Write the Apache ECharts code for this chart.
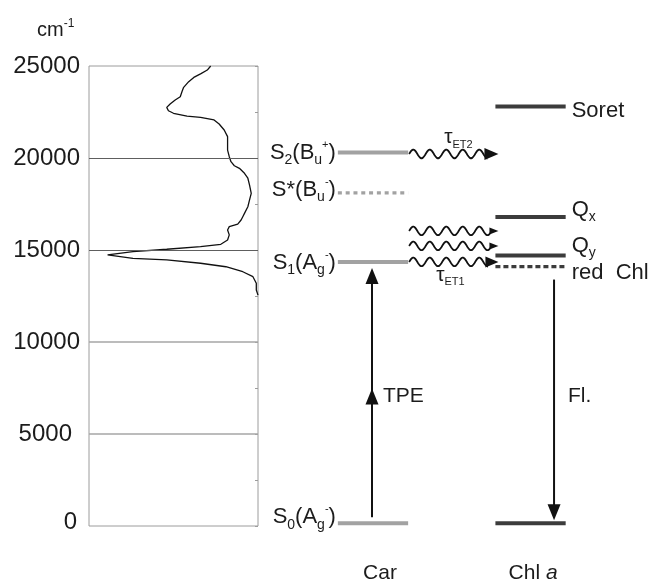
<!DOCTYPE html>
<html>
<head>
<meta charset="utf-8">
<script src="https://cdn.jsdelivr.net/npm/echarts@6/dist/echarts.min.js"></script>
<style>
  html, body { margin: 0; padding: 0; background: #ffffff; }
  #chart { width: 655px; height: 584px; }
</style>
</head>
<body>
<div id="chart"></div>
<script>
// ---- Energy axis (cm^-1) ----
const energyTicks = [0, 5000, 10000, 15000, 20000, 25000];
const tickLabels = ['0', '5000', '10000', '15000', '20000', '25000'];
const gridLevels = [5000, 10000, 15000, 20000];

// ---- Carotenoid absorption spectrum (energy in cm^-1, relative absorbance) ----
const spectrumEnergy = [25000, 24780, 24570, 24380, 24150, 23840, 23600, 23330, 23150, 22930,
  22750, 22570, 22430, 22280, 22210, 22070, 21850, 21520, 21160, 20800,
  20430, 20070, 19800, 19580, 19440, 19170, 18900, 18530, 18080, 17720,
  17350, 16990, 16810, 16630, 16410, 16270, 16090, 15820, 15540, 15310,
  15180, 15040, 14910, 14730, 14640, 14550, 14460, 14280, 14090, 13820,
  13550, 13190, 12830, 12550];
const spectrumAbs = [0.28, 0.30, 0.34, 0.38, 0.41, 0.44, 0.45, 0.46, 0.49, 0.52,
  0.54, 0.53, 0.50, 0.42, 0.34, 0.26, 0.23, 0.20, 0.18, 0.18,
  0.18, 0.17, 0.16, 0.14, 0.11, 0.08, 0.06, 0.05, 0.04, 0.05,
  0.06, 0.08, 0.09, 0.10, 0.12, 0.17, 0.18, 0.17, 0.18, 0.22,
  0.34, 0.54, 0.74, 0.89, 0.90, 0.74, 0.54, 0.34, 0.19, 0.09,
  0.03, 0.01, 0.01, 0.00];

// ---- Energy levels ----
const columns = ['Car', 'Chl a'];
const carStates = ['S2(Bu+)', 'S*(Bu-)', 'S1(Ag-)', 'S0(Ag-)'];
const carEnergy = [20300, 18100, 14350, 150];
const carDotted = [false, true, false, false];
const chlStates = ['Soret', 'Qx', 'Qy', 'red  Chl', 'S0'];
const chlEnergy = [22800, 16800, 14700, 14100, 150];
const chlDotted = [false, false, false, true, false];

// ---- Energy transfer (wavy arrows) from the carotenoid donor levels ----
const transferDonorEnergy = [20300, 14350, 14350, 14350];
const transferNames = ['τET2', 'τET1', '', ''];

// ---- Optical transitions ----
const transitionNames = ['TPE', 'Fl.'];
const transitionFrom = [150, 14100];
const transitionTo = [14350, 150];

// ---- Styling / layout ----
const FONT = '"Liberation Sans", Arial, Helvetica, sans-serif';
const TEXT = '#1c1c1c';
const CAR_COLOR = '#a2a2a2';
const CHL_COLOR = '#3c3c3c';
const INK = '#111111';
const CAR = 1, CHL = 2;            // column positions on the diagram axis
const LEVEL_HALF = 0.223;          // half width of a level bar (diagram units)

const richLevel = {
  m: { fontSize: 22, fontFamily: FONT, fill: TEXT, lineHeight: 29 },
  s: { fontSize: 14, fontFamily: FONT, fill: TEXT, lineHeight: 14, verticalAlign: 'bottom' },
  p: { fontSize: 11, fontFamily: FONT, fill: TEXT, lineHeight: 11, verticalAlign: 'top', padding: [1, 0, 0, 0] },
  t: { fontSize: 21, fontFamily: FONT, fill: TEXT, lineHeight: 26 },
  e: { fontSize: 11, fontFamily: FONT, fill: TEXT, lineHeight: 11, verticalAlign: 'bottom' },
  i: { fontSize: 21, fontFamily: FONT, fill: TEXT, lineHeight: 24, fontStyle: 'italic' },
  n: { fontSize: 21, fontFamily: FONT, fill: TEXT, lineHeight: 24 }
};

// turn plain state names into rich text with sub/superscripts
function carRich(name) {
  const m = name.match(/^S(\*|\d)\(([AB])([a-z])([+-])\)$/);
  const head = m[1] === '*' ? '{m|S*(' + m[2] + '}' : '{m|S}{s|' + m[1] + '}{m|(' + m[2] + '}';
  return head + '{s|' + m[3] + '}{p|' + m[4] + '}{m|)}';
}
function chlRich(name) {
  if (name === 'S0') return '';
  if (/^Q[xy]$/.test(name)) return '{m|Q}{s|' + name[1] + '}';
  return '{m|' + name + '}';
}
function tauRich(name) {
  return name ? '{t|τ}{e|' + name.slice(1) + '}' : '';
}
function columnRich(name) {
  return name === 'Chl a' ? '{n|Chl }{i|a}' : '{n|' + name + '}';
}

const carLabelShift = [0, -3, 1, -6];
const chlLabelShift = [4, -7, -10, 6, 0];

function levelSeries(col, energies, names, dotted, color, side, shifts, toRich) {
  return {
    type: 'custom', xAxisIndex: 1, yAxisIndex: 2, silent: true, clip: false,
    data: energies.map(e => [col, e]),
    renderItem(params, api) {
      const i = params.dataIndex;
      const e = api.value(1);
      const a = api.coord([col - LEVEL_HALF, e]);
      const b = api.coord([col + LEVEL_HALF, e]);
      const children = [{
        type: 'line',
        shape: { x1: a[0], y1: a[1], x2: b[0], y2: b[1] },
        style: dotted[i]
          ? { stroke: color, lineWidth: 3.2, lineDash: col === CAR ? [4, 3.8] : [5, 3] }
          : { stroke: color, lineWidth: 4 }
      }];
      const txt = toRich(names[i]);
      if (txt) {
        children.push({
          type: 'text',
          x: side === 'left' ? a[0] - 2 : b[0] + 6,
          y: a[1] + shifts[i],
          style: { text: txt, rich: richLevel, align: side === 'left' ? 'right' : 'left',
                   verticalAlign: 'middle', fill: TEXT }
        });
      }
      return { type: 'group', children };
    }
  };
}

// wavy energy-transfer arrows
const waveShift = [1.5, 0, -16, -31];
const waveHead = [{ len: 14, half: 6 }, { len: 13, half: 5.5 }, { len: 9, half: 3.5 }, { len: 9, half: 3.5 }];
const waveLabelPos = [[35, -17], [27, 13]];

function wavySeries() {
  return {
    type: 'custom', xAxisIndex: 1, yAxisIndex: 2, silent: true, clip: false,
    data: transferDonorEnergy.map(e => [CAR, e]),
    renderItem(params, api) {
      const i = params.dataIndex;
      const e = api.value(1);
      const a = api.coord([CAR + LEVEL_HALF, e]);
      const b = api.coord([CHL - LEVEL_HALF, e]);
      const y = a[1] + waveShift[i];
      const x0 = a[0] + 1;
      const tip = b[0] + 3;
      const h = waveHead[i];
      const x1 = tip - h.len + 2;
      const period = 16.5, amp = 4.3;
      const pts = [];
      for (let x = x0; x <= x1; x += 0.75) {
        pts.push([x, y - amp * Math.sin((x - x0) / period * 2 * Math.PI)]);
      }
      pts.push([x1, y]);
      const children = [
        { type: 'polyline', shape: { points: pts }, style: { stroke: INK, lineWidth: 1.8, fill: null } },
        { type: 'polygon', shape: { points: [[tip, y], [tip - h.len, y - h.half], [tip - h.len, y + h.half]] },
          style: { fill: INK } }
      ];
      const txt = tauRich(transferNames[i]);
      if (txt) {
        const lp = waveLabelPos[i];
        children.push({
          type: 'text', x: x0 + lp[0], y: y + lp[1],
          style: { text: txt, rich: richLevel, align: 'left', verticalAlign: 'middle', fill: TEXT }
        });
      }
      return { type: 'group', children };
    }
  };
}

// vertical transition arrows (two-photon excitation, fluorescence)
const arrowCol = [CAR, CHL];
const arrowDx = [-1, 23.5];
const arrowStartGap = [6, 13];
const arrowEndGap = [6, 3];
const arrowMidHead = [true, false];
const arrowLabelPos = [[11, 4], [14, -4]];

function arrowSeries() {
  return {
    type: 'custom', xAxisIndex: 1, yAxisIndex: 2, silent: true, clip: false,
    data: transitionFrom.map((f, i) => [arrowCol[i], f, transitionTo[i]]),
    renderItem(params, api) {
      const i = params.dataIndex;
      const p0 = api.coord([api.value(0), api.value(1)]);
      const p1 = api.coord([api.value(0), api.value(2)]);
      const x = p0[0] + arrowDx[i];
      const dir = p1[1] > p0[1] ? 1 : -1;
      const ys = p0[1] + dir * arrowStartGap[i];
      const yt = p1[1] - dir * arrowEndGap[i];
      const len = 16, half = 6.5;
      const head = (ty) => ({
        type: 'polygon',
        shape: { points: [[x, ty], [x - half, ty - dir * len], [x + half, ty - dir * len]] },
        style: { fill: INK }
      });
      const children = [
        { type: 'line', shape: { x1: x, y1: ys, x2: x, y2: yt - dir * (len - 2) },
          style: { stroke: INK, lineWidth: 2 } },
        head(yt)
      ];
      const mid = (ys + yt) / 2;
      if (arrowMidHead[i]) children.push(head(mid + dir * 4));
      const lp = arrowLabelPos[i];
      children.push({
        type: 'text', x: x + lp[0], y: mid + lp[1],
        style: { text: transitionNames[i], fontSize: 21, fontFamily: FONT, fill: TEXT,
                 align: 'left', verticalAlign: 'middle' }
      });
      return { type: 'group', children };
    }
  };
}

// column captions below the diagram
const columnDx = [7, 2.5];
function columnSeries() {
  return {
    type: 'custom', xAxisIndex: 1, yAxisIndex: 2, silent: true, clip: false,
    data: columns.map((c, i) => [i + 1, 0]),
    renderItem(params, api) {
      const i = params.dataIndex;
      const p = api.coord([api.value(0), api.value(1)]);
      return {
        type: 'text', x: p[0] + columnDx[i], y: p[1] + 47,
        style: { text: columnRich(columns[i]), rich: richLevel, align: 'center',
                 verticalAlign: 'middle', fill: TEXT }
      };
    }
  };
}

const tickRich = {};
tickLabels.forEach((t, i) => {
  tickRich['k' + i] = {
    fontSize: 24, fontFamily: FONT, color: TEXT,
    padding: t === '0' ? [0, 3, 8, 0] : (t === '5000' ? [0, 8, 0, 0] : [0, 0, 0, 0])
  };
});

const chart = echarts.init(document.getElementById('chart'), null, { renderer: 'canvas' });
chart.setOption({
  animation: false,
  backgroundColor: '#ffffff',
  grid: [
    { left: 89, top: 66, width: 169, height: 460, show: true, borderColor: '#9c9c9c', borderWidth: 1,
      backgroundColor: 'transparent' },
    { left: 258, top: 66, width: 397, height: 460 }
  ],
  xAxis: [
    { gridIndex: 0, type: 'value', min: 0, max: 1, inverse: true, show: false },
    { gridIndex: 1, type: 'value', min: 0.27, max: 2.79, show: false }
  ],
  yAxis: [
    {
      gridIndex: 0, type: 'value', min: 0, max: 25000, interval: 5000,
      axisLine: { show: false }, axisTick: { show: false }, splitLine: { show: false },
      axisLabel: {
        margin: 9,
        formatter: v => {
          const i = energyTicks.indexOf(v);
          return i < 0 ? '' : '{k' + i + '|' + tickLabels[i] + '}';
        },
        rich: tickRich
      }
    },
    {
      gridIndex: 0, type: 'value', position: 'right', min: 0, max: 25000, interval: 2500,
      axisLine: { show: false }, axisLabel: { show: false }, splitLine: { show: false },
      axisTick: { show: true, inside: true, length: 3, lineStyle: { color: '#9c9c9c', width: 1 } }
    },
    { gridIndex: 1, type: 'value', min: 0, max: 25000, show: false }
  ],
  graphic: [{
    type: 'text', left: 37, top: 18, silent: true,
    style: {
      text: '{c|cm}{p|-1}',
      rich: {
        c: { fontSize: 20, fontFamily: FONT, fill: TEXT, lineHeight: 24 },
        p: { fontSize: 12, fontFamily: FONT, fill: TEXT, lineHeight: 12, verticalAlign: 'top' }
      }
    }
  }],
  series: [
    {
      type: 'line', xAxisIndex: 0, yAxisIndex: 0, silent: true,
      data: spectrumAbs.map((a, i) => [a, spectrumEnergy[i]]),
      showSymbol: false, symbol: 'none',
      lineStyle: { color: INK, width: 1.3 },
      markLine: {
        silent: true, symbol: 'none', label: { show: false },
        data: gridLevels.map(v => ({
          yAxis: v,
          lineStyle: v >= 15000 ? { color: '#5e5e5e', width: 1, type: 'solid' }
                                : { color: '#a6a6a6', width: 1.5, type: 'solid' }
        }))
      }
    },
    levelSeries(CAR, carEnergy, carStates, carDotted, CAR_COLOR, 'left', carLabelShift, carRich),
    levelSeries(CHL, chlEnergy, chlStates, chlDotted, CHL_COLOR, 'right', chlLabelShift, chlRich),
    wavySeries(),
    arrowSeries(),
    columnSeries()
  ]
});
</script>
</body>
</html>
